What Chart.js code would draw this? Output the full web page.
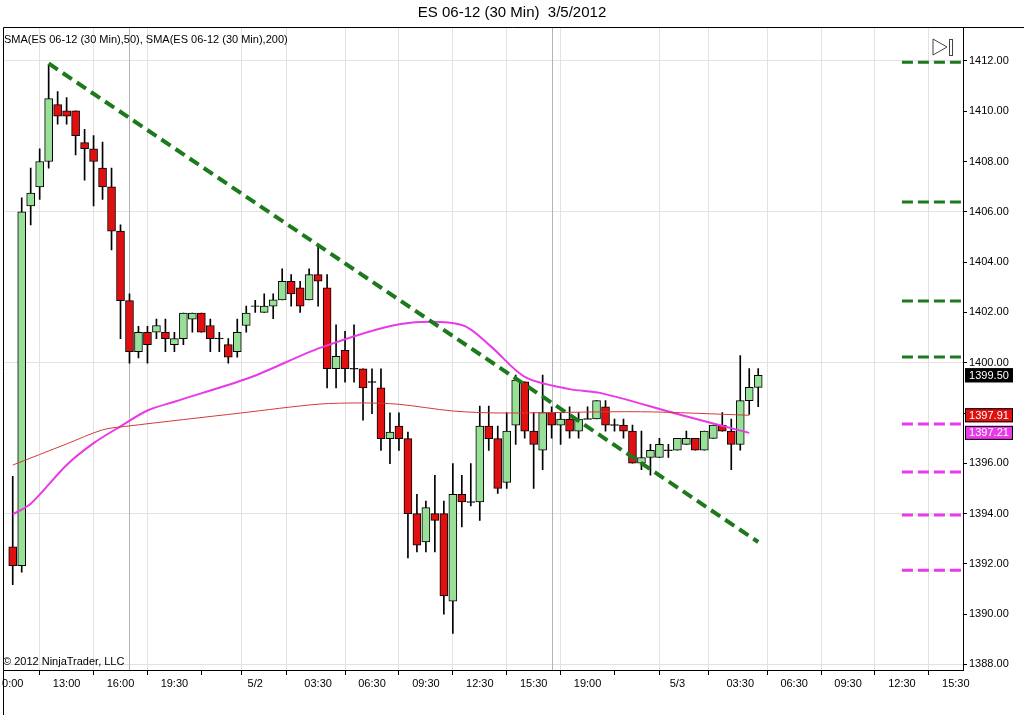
<!DOCTYPE html>
<html><head><meta charset="utf-8">
<script src="https://cdn.jsdelivr.net/npm/chart.js@4/dist/chart.umd.min.js"></script>
<style>html,body{margin:0;padding:0;background:#fff}#w{width:1024px;height:715px}</style>
</head><body><div id="w"><canvas id="c"></canvas></div>
<script>
const opens  = [1392.68,1391.93,1406.23,1406.99,1408.0,1410.26,1410.02,1410.02,1408.75,1408.51,1407.74,1406.99,1405.23,1402.47,1400.44,1401.21,1401.21,1401.21,1400.72,1400.96,1401.73,1401.97,1401.48,1400.96,1400.72,1400.44,1401.48,1402.25,1402.0,1402.25,1402.5,1403.24,1402.98,1402.5,1403.5,1402.98,1399.76,1400.49,1399.76,1399.76,1399.23,1399.0,1396.98,1397.48,1396.98,1394.0,1392.87,1394.0,1394.0,1390.52,1394.77,1394.46,1394.46,1397.48,1396.98,1395.24,1397.52,1399.24,1397.28,1396.52,1398.02,1397.52,1397.76,1397.28,1397.76,1397.76,1398.25,1397.52,1397.52,1397.28,1396.0,1396.23,1396.23,1396.52,1396.52,1396.75,1396.99,1396.52,1396.99,1397.52,1397.28,1396.75,1398.49,1399.02];
const highs  = [1395.48,1406.56,1407.74,1408.51,1411.87,1410.78,1410.54,1410.02,1409.28,1409.03,1408.77,1407.74,1405.48,1402.74,1401.45,1401.45,1401.73,1401.73,1401.21,1401.97,1401.97,1401.97,1401.73,1401.21,1400.96,1401.73,1402.25,1402.48,1402.74,1402.74,1403.73,1403.5,1403.24,1403.73,1404.73,1403.5,1401.51,1401.25,1401.51,1399.76,1399.76,1399.76,1398.01,1398.01,1397.24,1394.77,1394.5,1395.52,1394.5,1395.99,1395.52,1395.99,1398.28,1398.28,1397.48,1398.02,1399.51,1399.24,1398.02,1399.51,1398.25,1398.02,1398.25,1398.02,1398.25,1398.49,1398.49,1397.76,1397.76,1397.52,1397.28,1396.75,1396.99,1396.75,1396.99,1397.28,1396.99,1397.28,1397.52,1398.02,1397.76,1400.28,1399.77,1399.77];
const lows   = [1391.17,1391.67,1405.48,1406.49,1407.74,1409.49,1409.49,1408.26,1407.26,1406.23,1406.49,1404.49,1400.96,1399.98,1400.19,1399.98,1400.96,1400.44,1400.44,1400.72,1401.21,1401.21,1400.44,1400.44,1399.98,1400.22,1401.21,1402.0,1402.0,1401.75,1402.5,1402.25,1402.0,1402.5,1402.25,1399.0,1399.0,1399.23,1399.23,1397.71,1397.97,1396.51,1395.99,1396.51,1392.24,1392.48,1392.48,1392.48,1390.0,1389.23,1393.47,1394.3,1393.73,1396.51,1394.8,1395.0,1396.75,1397.0,1395.0,1395.75,1397.0,1396.75,1397.0,1397.0,1397.76,1397.76,1397.28,1397.28,1397.0,1396.0,1395.75,1395.53,1396.23,1396.23,1396.52,1396.75,1396.52,1396.52,1396.99,1397.28,1395.75,1396.52,1397.94,1398.25];
const closes = [1391.93,1406.0,1406.75,1408.0,1410.5,1409.8,1409.8,1409.03,1408.51,1408.0,1406.99,1405.23,1402.47,1400.44,1401.21,1400.72,1401.48,1400.96,1400.96,1401.97,1401.97,1401.21,1400.96,1400.96,1400.22,1401.21,1401.97,1402.25,1402.25,1402.5,1403.24,1402.74,1402.25,1403.5,1403.24,1399.76,1400.25,1399.76,1399.76,1399.0,1399.23,1396.98,1397.24,1396.98,1394.0,1392.74,1394.24,1393.73,1390.73,1394.77,1394.46,1394.46,1397.48,1396.98,1395.0,1397.28,1399.31,1397.28,1396.75,1398.02,1397.52,1397.76,1397.28,1397.76,1397.76,1398.49,1397.52,1397.52,1397.28,1396.0,1396.23,1396.52,1396.75,1396.52,1396.99,1396.99,1396.52,1397.28,1397.52,1397.28,1396.75,1398.49,1399.02,1399.5];
const sma50Idx = [0,2,6,9,12,15,18,26.5,34.3,43.2,50,53.2,57,62,65.4,74,82];
const sma50Val = [1393.97,1394.39,1395.93,1396.8,1397.47,1398.1,1398.45,1399.42,1400.6,1401.54,1401.5,1400.66,1399.44,1398.95,1398.8,1397.96,1397.21];
const sma200Idx = [0,6,10,12.6,25.4,34,38.8,42.9,49,54.3,69.9,82];
const sma200Val = [1395.93,1396.77,1397.33,1397.47,1398.0,1398.35,1398.4,1398.35,1398.08,1398.0,1398.05,1397.91];
const trendIdx = [4,83];
const trendVal = [1411.9,1392.87];
const greenLevels = [1411.95,1406.39,1402.45,1400.23];
const magentaLevels = [1397.56,1395.65,1393.94,1391.75];
const tickIdx = [0,6,12,18,24,27,34,40,46,52,58,64,70,74,81,87,93,99,105];
const tickLabels = ['0:00','13:00','16:00','19:30','','5/2','03:30','06:30','09:30','12:30','15:30','19:00','','5/3','03:30','06:30','09:30','12:30','15:30'];
const lastPrice = 1399.50, sma200Last = 1397.91, sma50Last = 1397.21;

const GREEN='#98e098', RED='#e01010', MAG='#e83ae8', DG='#1c7a1c';
const wick = opens.map((o,i)=>({x:i,y:[lows[i],highs[i]]}));
const body = opens.map((o,i)=>{let a=o,b=closes[i];if(Math.abs(a-b)<0.03){a-=0.015;b+=0.015;}return {x:i,y:[a,b]};});
const bodyCol = opens.map((o,i)=>closes[i]>o+0.03?GREEN:(closes[i]<o-0.03?RED:'#000'));
const ds = [
 {type:'bar',data:wick,backgroundColor:'#000',borderWidth:0,barThickness:1,grouped:false,order:3},
 {type:'bar',data:body,backgroundColor:bodyCol,borderColor:'#000',borderWidth:1,borderSkipped:false,barThickness:8,grouped:false,order:2},
 {type:'line',data:sma200Idx.map((x,i)=>({x,y:sma200Val[i]})),borderColor:'#d23a3a',borderWidth:1,pointRadius:0,tension:0.3,order:1},
 {type:'line',data:sma50Idx.map((x,i)=>({x,y:sma50Val[i]})),borderColor:MAG,borderWidth:2,pointRadius:0,tension:0.3,order:1},
 {type:'line',data:trendIdx.map((x,i)=>({x,y:trendVal[i]})),borderColor:DG,borderWidth:4,borderDash:[11,6],pointRadius:0,order:0},
];
greenLevels.forEach(v=>ds.push({type:'line',data:[{x:99.0,y:v},{x:105.8,y:v}],borderColor:DG,borderWidth:3,borderDash:[11,5],pointRadius:0,order:0}));
magentaLevels.forEach(v=>ds.push({type:'line',data:[{x:99.0,y:v},{x:105.8,y:v}],borderColor:MAG,borderWidth:3,borderDash:[11,5],pointRadius:0,order:0}));

const F='"Liberation Sans", Arial, sans-serif';
const deco = {id:'deco',
 beforeDatasetsDraw(c){const ctx=c.ctx,x=c.scales.x,a=c.chartArea;ctx.save();ctx.strokeStyle='#b4b4b4';ctx.lineWidth=1;
  [13,60].forEach(i=>{const px=Math.round(x.getPixelForValue(i))+0.5;ctx.beginPath();ctx.moveTo(px,a.top);ctx.lineTo(px,a.bottom);ctx.stroke();});ctx.restore();},
 afterDraw(c){const ctx=c.ctx,a=c.chartArea,y=c.scales.y;ctx.save();
  ctx.fillStyle='#000';ctx.font='15px '+F;ctx.textAlign='center';ctx.textBaseline='middle';
  ctx.fillText('ES 06-12 (30 Min)  3/5/2012',512,13);
  ctx.font='11px '+F;ctx.textAlign='left';ctx.fillText('SMA(ES 06-12 (30 Min),50), SMA(ES 06-12 (30 Min),200)',4,40);
  ctx.fillText('© 2012 NinjaTrader, LLC',3,662);
  ctx.strokeStyle='#000';ctx.lineWidth=1;ctx.beginPath();ctx.moveTo(3.5,715);ctx.lineTo(3.5,a.top+0.5);ctx.lineTo(1024,a.top+0.5);ctx.stroke();
  // icon
  ctx.strokeStyle='#444';ctx.beginPath();ctx.moveTo(933,39);ctx.lineTo(947,47);ctx.lineTo(933,55);ctx.closePath();ctx.stroke();ctx.strokeRect(949.5,39.5,3,16);
  const box=(v,bg)=>{const py=y.getPixelForValue(v);ctx.fillStyle=bg;ctx.fillRect(965,py-7,48,14);ctx.strokeStyle='#000';ctx.strokeRect(965.5,py-6.5,47,13);ctx.fillStyle='#fff';ctx.font='11px '+F;ctx.textAlign='center';ctx.fillText(v.toFixed(2),989,py+0.5);};
  box(lastPrice,'#000');box(sma200Last,RED);box(sma50Last,MAG);
  ctx.restore();}
};
new Chart(document.getElementById('c'),{
 data:{datasets:ds},
 options:{responsive:true,maintainAspectRatio:false,animation:false,
  layout:{padding:{left:3,top:27,right:0,bottom:0}},
  plugins:{legend:{display:false},tooltip:{enabled:false}},
  scales:{
   x:{type:'linear',min:-0.9,max:105.8,offset:false,
    afterBuildTicks(s){s.ticks=tickIdx.map(v=>({value:v}));},
    afterFit(s){s.height=45;},
    border:{color:'#000',width:1},
    grid:{color:ctx=>tickLabels[tickIdx.indexOf(ctx.tick&&ctx.tick.value)]?'#e2e2e2':'rgba(0,0,0,0)',tickColor:'#000',tickLength:5,drawOnChartArea:true},
    ticks:{autoSkip:false,maxRotation:0,color:'#000',font:{family:F,size:11},padding:2,callback:(v)=>{const k=tickIdx.indexOf(v);return k>=0?tickLabels[k]:'';}}},
   y:{type:'linear',position:'right',min:1387.78,max:1413.35,
    afterBuildTicks(s){const t=[];for(let v=1388;v<=1412;v+=2)t.push({value:v});s.ticks=t;},
    afterFit(s){s.width=61;},
    border:{color:'#000',width:1},
    grid:{color:ctx=>ctx.tick&&((ctx.tick.value-1388)%6===0)?'#e2e2e2':'rgba(0,0,0,0)',tickColor:'#000',tickLength:4},
    ticks:{color:'#000',font:{family:F,size:11},padding:2,callback:v=>v.toFixed(2)}}
  }},
 plugins:[deco]
});
</script></body></html>
